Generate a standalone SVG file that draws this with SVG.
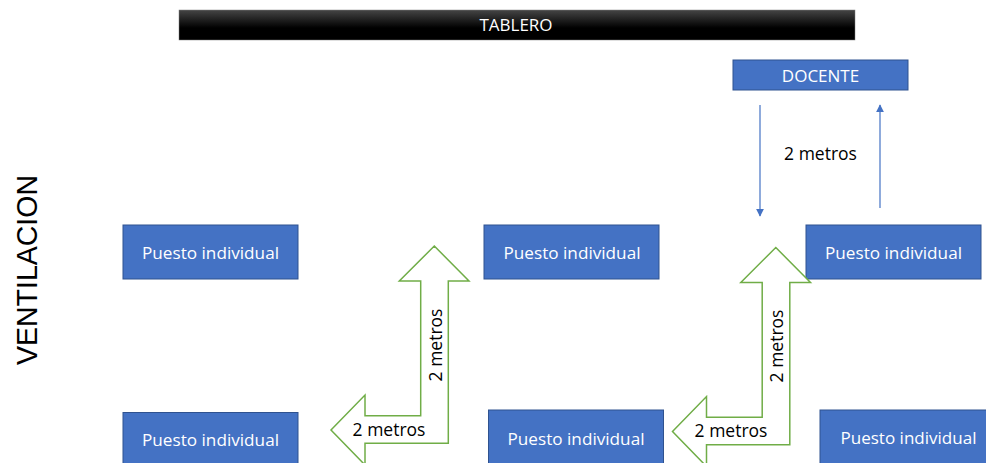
<svg xmlns="http://www.w3.org/2000/svg" width="986" height="463" viewBox="0 0 986 463">
<defs>
<linearGradient id="bar" x1="0" y1="0" x2="0" y2="1">
<stop offset="0" stop-color="#454545"/>
<stop offset="0.6" stop-color="#000000"/>
<stop offset="1" stop-color="#000000"/>
</linearGradient>
<marker id="ah" viewBox="0 0 10 10" refX="9" refY="5" markerWidth="8" markerHeight="8" markerUnits="userSpaceOnUse" orient="auto">
<path d="M0,0 L10,5 L0,10 z" fill="#4472C4"/>
</marker>
<polygon id="bent" points="434.3,246 469,281 448.3,281 448.3,443.3 365,443.3 365,465 331,430 365,395 365,415.7 420.7,415.7 420.7,281 399.3,281"/>
</defs>
<style>
.box{fill:#4472C4;stroke:#2F528F;stroke-width:1}
.lbl{font-family:"Open Sans",sans-serif;font-size:17px;fill:#ffffff;text-anchor:middle}
.dim{font-family:"Open Sans",sans-serif;font-size:17.5px;fill:#000000;text-anchor:middle}
.green{fill:#ffffff;stroke:#70AD47;stroke-width:1.5}
.blue{stroke:#4472C4;stroke-width:1.2;fill:none}
</style>
<rect width="986" height="463" fill="#ffffff"/>

<g id="tablero">
<rect x="179" y="10" width="676" height="30" fill="url(#bar)" stroke="#7f7f7f" stroke-width="0.5"/>
<text class="lbl" x="516" y="31">TABLERO</text>
</g>

<g id="ventilacion">
<text x="37" y="270" transform="rotate(-90 37 270)" font-family="Liberation Sans, Arial, sans-serif" font-size="29" fill="#000000" text-anchor="middle" textLength="190" lengthAdjust="spacingAndGlyphs">VENTILACION</text>
</g>

<g id="docente">
<rect class="box" x="733" y="60" width="175" height="30"/>
<text class="lbl" x="820.5" y="81.5">DOCENTE</text>
</g>

<g id="puesto1">
<rect class="box" x="123" y="225" width="175" height="54"/>
<text class="lbl" x="210.5" y="259" textLength="137" lengthAdjust="spacingAndGlyphs">Puesto individual</text>
</g>
<g id="puesto2">
<rect class="box" x="484" y="225" width="175" height="54"/>
<text class="lbl" x="572" y="259" textLength="137" lengthAdjust="spacingAndGlyphs">Puesto individual</text>
</g>
<g id="puesto3">
<rect class="box" x="806" y="225" width="175" height="54"/>
<text class="lbl" x="893.5" y="259" textLength="137" lengthAdjust="spacingAndGlyphs">Puesto individual</text>
</g>
<g id="puesto4">
<rect class="box" x="123" y="412.5" width="175" height="60"/>
<text class="lbl" x="210.5" y="446" textLength="137" lengthAdjust="spacingAndGlyphs">Puesto individual</text>
</g>
<g id="puesto5">
<rect class="box" x="488.5" y="410" width="175" height="60"/>
<text class="lbl" x="576" y="445" textLength="137" lengthAdjust="spacingAndGlyphs">Puesto individual</text>
</g>
<g id="puesto6">
<rect class="box" x="820" y="410" width="175" height="60"/>
<text class="lbl" x="908.5" y="444" textLength="136" lengthAdjust="spacingAndGlyphs">Puesto individual</text>
</g>

<g id="connectors">
<g id="bent1">
<use href="#bent" class="green"/>
<text class="dim" x="389" y="436">2 metros</text>
<text class="dim" x="441.5" y="345" transform="rotate(-90 441.5 345)">2 metros</text>
</g>
<g id="bent2">
<use href="#bent" class="green" transform="translate(341.5 1.5)"/>
<text class="dim" x="731" y="437">2 metros</text>
<text class="dim" x="783" y="346" transform="rotate(-90 783 346)">2 metros</text>
</g>
<g id="docente-arrows">
<line class="blue" x1="760" y1="105" x2="760" y2="216" marker-end="url(#ah)"/>
<line class="blue" x1="880" y1="208" x2="880" y2="105" marker-end="url(#ah)"/>
<text class="dim" x="820.5" y="160">2 metros</text>
</g>
</g>
</svg>
